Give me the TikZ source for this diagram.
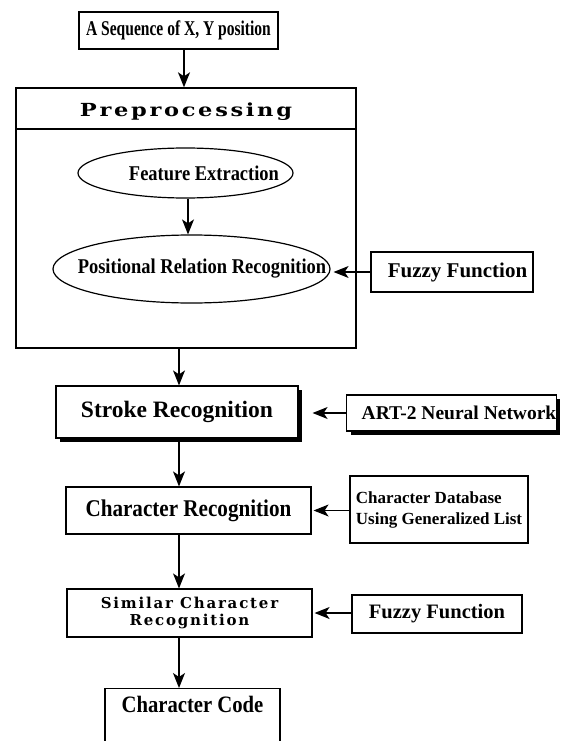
\documentclass[tikz,border=0pt]{standalone}
\usepackage{fontspec}
\setmainfont{Liberation Serif}
\newfontfamily\fcond[FakeStretch=0.74]{Liberation Serif}
\newfontfamily\fsemi[FakeStretch=0.88]{Liberation Serif}
\newfontfamily\fwide[FakeStretch=1.25,LetterSpace=15]{DejaVu Serif}
\newfontfamily\fwideb[LetterSpace=12]{DejaVu Serif}
\usetikzlibrary{shapes.geometric,arrows.meta,shadows}
\newcommand{\fs}[2]{\fontsize{#1}{#2}\selectfont}
\begin{document}
\begin{tikzpicture}[x=1pt,y=-1pt,
  box/.style={draw, rectangle, line width=1.2pt, inner sep=0pt, fill=white},
  ell/.style={draw, ellipse, line width=1.2pt, inner sep=0pt},
  shd/.style={drop shadow={shadow xshift=4pt,shadow yshift=-4pt,fill=black,opacity=1}},
  arr/.style={-{Stealth[length=15pt,width=12pt,inset=4pt]}, line width=1.4pt}]
\useasboundingbox (0,0) rectangle (563,741);
\clip (0,0) rectangle (563,741);

% top input
\node[box, minimum width=199pt, minimum height=37pt,
      font=\fcond\bfseries\fs{21}{24}] (top) at (178.5,30.5)
  {A Sequence of X, Y position};

% preprocessing container
\node[box, line width=1.4pt, minimum width=340pt, minimum height=260pt] (prep) at (186,218) {};
\node[inner sep=0pt, font=\fwide\bfseries\fs{18}{20}] (title) at (186,112)
  {Preprocessing};
\coordinate (div) at (0,129);
\draw[line width=1.2pt] (prep.west |- div) -- (prep.east |- div);

\node[ell, minimum width=215pt, minimum height=50pt,
      font=\fsemi\bfseries\fs{21}{24}] (fe) at (185.5,173)
  {\makebox[0pt]{\kern37pt Feature Extraction}};
\node[ell, minimum width=277pt, minimum height=68pt,
      font=\fsemi\bfseries\fs{21}{24}] (pr) at (191.5,269)
  {\makebox[0pt]{\kern21pt Positional Relation Recognition}};
\node[box, minimum width=162pt, minimum height=40pt,
      font=\bfseries\fs{21}{24}] (fz1) at (452,272)
  {\kern11pt Fuzzy Function};

% main chain
\node[box, shd, minimum width=242pt, minimum height=52pt,
      font=\bfseries\fs{23.5}{26}] (stroke) at (177,412)
  {Stroke Recognition};
\node[box, shd, minimum width=203pt, minimum height=36pt,
      font=\bfseries\fs{19.5}{22}] (art) at (451.5,413)
  {\kern15pt ART-2 Neural Network};
\node[box, minimum width=245pt, minimum height=47pt,
      font=\fsemi\bfseries\fs{24}{26}] (charrec) at (188.5,510.5)
  {Character Recognition};
\node[box, minimum width=178pt, minimum height=67pt, align=left,
      font=\bfseries\fs{17}{21}] (chardb) at (439,509.5)
  {Character Database\\Using Generalized List};
\node[box, minimum width=245pt, minimum height=48pt, align=center,
      font=\fwideb\bfseries\fs{15}{19}] (sim) at (189.5,613)
  {\raisebox{-3pt}{\shortstack{Similar Character\\[2pt]Recognition}}};
\node[box, minimum width=170pt, minimum height=38pt,
      font=\bfseries\fs{20.5}{23}] (fz2) at (437,614)
  {Fuzzy Function};
\node[box, anchor=north, minimum width=175pt, inner xsep=0pt, inner ysep=8pt,
      text height=16pt, text depth=60pt,
      font=\fsemi\bfseries\fs{23.5}{26}] (code) at (192.5,688)
  {Character Code};

% connectors
\coordinate (ax) at (179,0);
\draw[arr] ([xshift=5.5pt]top.south) -- ([xshift=5.5pt]top.south |- prep.north);
\draw[arr] ([xshift=2.5pt]fe.south) -- ([xshift=2.5pt]fe.south |- pr.north);
\draw[arr, shorten >=3pt] (fz1.west) -- (fz1.west -| pr.east);
\draw[arr] (ax |- prep.south) -- (ax |- stroke.north);
\draw[arr, shorten >=14pt] (art.west) -- (art.west -| stroke.east);
\draw[arr] (ax |- stroke.south) -- (ax |- charrec.north);
\draw[arr, shorten >=2pt] (chardb.west |- charrec.east) -- (charrec.east);
\draw[arr] (ax |- charrec.south) -- (ax |- sim.north);
\draw[arr, shorten >=2pt] (fz2.west |- sim.east) -- (sim.east);
\draw[arr] (ax |- sim.south) -- (ax |- code.north);
\end{tikzpicture}
\end{document}
